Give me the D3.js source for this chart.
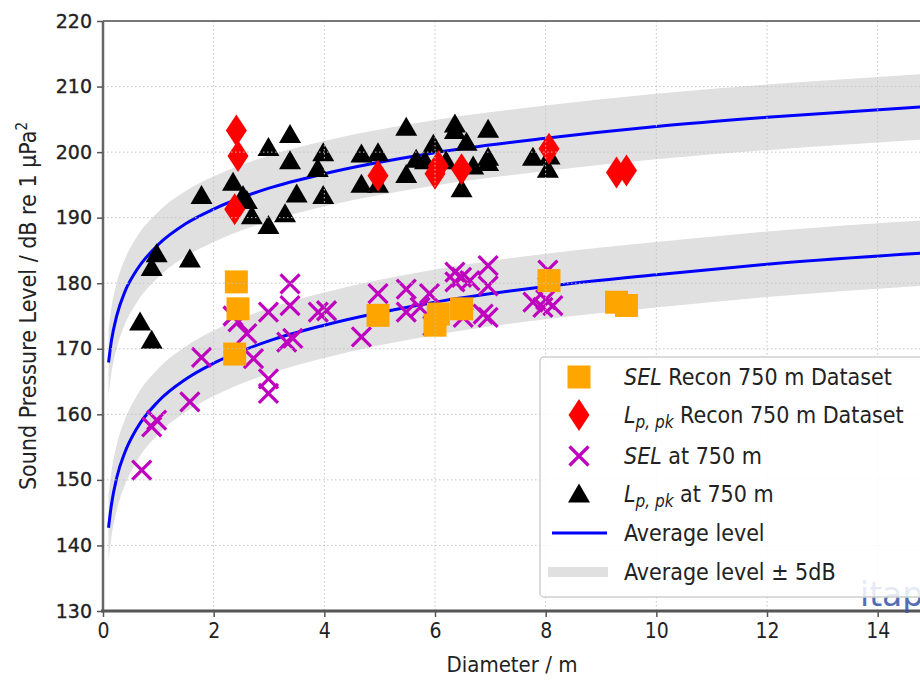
<!DOCTYPE html>
<html><head><meta charset="utf-8">
<script src="https://cdn.jsdelivr.net/npm/d3@7/dist/d3.min.js"></script>
<style>
html,body{margin:0;padding:0;background:#fff;}
svg{display:block;}
.cond{font-family:"DejaVu Sans Condensed","DejaVu Sans",sans-serif;font-stretch:condensed;}
</style></head>
<body><svg id="c" width="920" height="680"></svg>
<script>
// ---- data ----
const xTicks = [0,2,4,6,8,10,12,14];
const yTicks = [130,140,150,160,170,180,190,200,210,220];

// Average level curves
const curveD     = [0.1, 0.15, 0.25, 0.4, 0.6, 1, 1.5, 2, 3, 4, 6, 8, 10, 12, 15];
const curveLpk   = [167.9,171.1,175.1,178.8,181.9,185.9,189.1,191.3,194.5,196.7,199.9,202.1,203.9,205.3,207.0];
const curveSEL   = [142.7,146.1,150.4,154.3,157.7,162.0,165.4,167.8,171.2,173.6,177.1,179.5,181.3,182.9,184.7];
const bandHalfWidth = 5; // "Average level ± 5dB"

// L_p,pk at 750 m (triangles)
const lpkX = [0.67,0.88,0.88,0.97,1.57,1.78,2.35,2.53,2.6,2.69,2.99,2.99,3.29,3.38,3.38,3.5,3.98,3.88,3.98,4.67,4.67,4.97,4.97,5.48,5.48,5.66,5.82,5.97,6.2,6.36,6.36,6.57,6.69,6.48,6.96,6.96,6.96,7.77,8.07,8.04];
const lpkY = [174.1,171.3,182.4,184.5,183.7,193.4,195.4,193.4,192.6,190.3,188.8,200.7,190.6,202.7,198.7,193.6,199.9,197.5,193.4,199.7,195.1,199.9,195.1,203.8,196.6,198.9,198.7,201.2,198.7,204.3,203.3,201.5,197.9,194.4,203.5,199.2,198.4,199.2,199.4,197.4];

// SEL at 750 m (crosses)
const selX = [0.7,0.88,0.97,1.57,1.78,2.35,2.44,2.6,2.72,2.99,2.99,2.99,3.32,3.43,3.38,3.38,3.89,4.04,4.67,4.97,5.48,5.48,5.73,5.9,5.96,6.36,6.36,6.48,6.63,6.96,6.96,6.87,6.96,6.51,7.77,7.95,8.13,8.04,8.0];
const selY = [151.5,158.1,159.1,161.9,168.7,175.0,174.1,172.3,168.5,175.6,165.4,163.2,171.0,171.6,179.9,176.6,175.6,175.8,171.8,178.4,179.1,175.6,176.3,178.4,173.5,181.7,180.2,180.9,180.4,182.7,179.6,175.3,174.8,174.8,177.1,176.3,176.6,182.0,177.5];

// Recon 750 m dataset
const reconX    = [2.41,2.44,2.38,4.97,6.0,6.06,6.48,8.06,9.28,9.46];
const reconSEL  = [180.2,176.1,169.2,175.1,173.6,175.3,176.1,180.4,177.1,176.6];
const reconLpk  = [203.3,199.4,191.3,196.4,196.7,197.9,197.4,200.5,196.9,197.2];

// ---- chart ----
const svg = d3.select("#c");
const L = 103, T = 21, R = 933, B = 611;
const x = d3.scaleLinear().domain([0,15]).range([L,R]);
const y = d3.scaleLinear().domain([130,220]).range([B,T]);

const defs = svg.append("defs");
defs.append("clipPath").attr("id","plot").append("rect").attr("x",L).attr("y",T).attr("width",R-L).attr("height",B-T);
const plot = svg.append("g").attr("clip-path","url(#plot)");

const curves = [curveLpk, curveSEL].map(arr => curveD.map((d,i)=>({d, v:arr[i]})));

// bands
const area = d3.area().x(p=>x(p.d)).y0(p=>y(p.v-bandHalfWidth)).y1(p=>y(p.v+bandHalfWidth)).curve(d3.curveMonotoneX);
curves.forEach(c => plot.append("path").attr("d", area(c)).attr("fill","#e0e0e0"));

// grid
const grid = svg.append("g").attr("stroke","#c4c4c4").attr("stroke-width",1).attr("stroke-dasharray","1.5,2.5");
xTicks.filter(t=>t>0).forEach(t => grid.append("line").attr("x1",x(t)).attr("x2",x(t)).attr("y1",T).attr("y2",B));
yTicks.filter(t=>t>130 && t<220).forEach(t => grid.append("line").attr("x1",L).attr("x2",R).attr("y1",y(t)).attr("y2",y(t)));

// average lines
const line = d3.line().x(p=>x(p.d)).y(p=>y(p.v)).curve(d3.curveMonotoneX);
curves.forEach(c => plot.append("path").attr("d", line(c)).attr("fill","none").attr("stroke","#0000ff").attr("stroke-width",3));

// markers
const triPath = (cx,cy) => `M${cx},${cy-10.5}L${cx+11},${cy+8.5}L${cx-11},${cy+8.5}Z`;
const crossG = (g,cx,cy) => {
  const s=9.5;
  g.append("path").attr("d",`M${cx-s},${cy-s}L${cx+s},${cy+s}M${cx-s},${cy+s}L${cx+s},${cy-s}`)
   .attr("stroke","#bf00bf").attr("stroke-width",3.2).attr("fill","none");
};
const sqPath = (cx,cy) => `M${cx-11.5},${cy-11.5}h23v23h-23Z`;
const diaPath = (cx,cy) => `M${cx},${cy-16}L${cx+10.5},${cy}L${cx},${cy+16}L${cx-10.5},${cy}Z`;

const mk = plot.append("g");
selX.forEach((d,i)=>crossG(mk,x(d),y(selY[i])));
lpkX.forEach((d,i)=>mk.append("path").attr("d",triPath(x(d),y(lpkY[i]))).attr("fill","#000"));
reconX.forEach((d,i)=>mk.append("path").attr("d",sqPath(x(d),y(reconSEL[i]))).attr("fill","#ffa500"));
reconX.forEach((d,i)=>mk.append("path").attr("d",diaPath(x(d),y(reconLpk[i]))).attr("fill","#ff0000"));

// spines
svg.append("line").attr("x1",L).attr("x2",R).attr("y1",T).attr("y2",T).attr("stroke","#777").attr("stroke-width",2);
svg.append("line").attr("x1",L).attr("x2",L).attr("y1",T).attr("y2",B).attr("stroke","#666").attr("stroke-width",2.5);
svg.append("line").attr("x1",L-2).attr("x2",R).attr("y1",B).attr("y2",B).attr("stroke","#555").attr("stroke-width",3);

// axes
const yAx = svg.append("g").attr("transform",`translate(${L},0)`)
  .call(d3.axisLeft(y).tickValues(yTicks).tickSize(6).tickPadding(5).tickFormat(d3.format("d")));
yAx.select(".domain").remove();
yAx.selectAll("line").attr("stroke","#555").attr("stroke-width",1.5);
yAx.selectAll("text").attr("font-family","DejaVu Sans, sans-serif").attr("font-size",19)
  .attr("fill","#222").attr("stroke","#222").attr("stroke-width",0.35);

const xAx = svg.append("g").attr("transform",`translate(0,${B})`)
  .call(d3.axisBottom(x).tickValues(xTicks).tickSize(6).tickPadding(6).tickFormat(d3.format("d")));
xAx.select(".domain").remove();
xAx.selectAll("line").attr("stroke","#555").attr("stroke-width",1.5);
xAx.selectAll("text").attr("class","cond").attr("font-size",21).attr("fill","#222");

// axis titles
svg.append("text").attr("class","cond").attr("x",512).attr("y",672).attr("text-anchor","middle")
  .attr("font-size",22).attr("fill","#222").text("Diameter / m");
const yt = svg.append("text").attr("class","cond").attr("transform","translate(36,306) rotate(-90)")
  .attr("text-anchor","middle").attr("font-size",23).attr("fill","#222");
yt.append("tspan").text("Sound Pressure Level / dB re 1 μPa");
yt.append("tspan").attr("dy",-9).attr("font-size",15).text("2");

// watermark
svg.append("text").attr("x",860).attr("y",606).attr("font-family","DejaVu Sans, sans-serif")
  .attr("font-size",33).attr("fill","#3553a8").attr("opacity",0.85).text("itap");

// legend
const lg = svg.append("g");
lg.append("rect").attr("x",540).attr("y",357).attr("width",390).attr("height",240).attr("rx",4)
  .attr("fill","rgba(255,255,255,0.85)").attr("stroke","#d0d0d0").attr("stroke-width",1.5);
const hx = 579, tx = 624;
const rows = [377,415,456,494,533,572];
lg.append("path").attr("d",sqPath(hx,rows[0])).attr("fill","#ffa500");
lg.append("path").attr("d",diaPath(hx,rows[1])).attr("fill","#ff0000");
crossG(lg,hx,rows[2]);
lg.append("path").attr("d",triPath(hx,rows[3])).attr("fill","#000");
lg.append("line").attr("x1",552).attr("x2",607).attr("y1",rows[4]).attr("y2",rows[4]).attr("stroke","#0000ff").attr("stroke-width",3);
lg.append("rect").attr("x",548).attr("y",rows[5]-5).attr("width",60).attr("height",10).attr("fill","#e0e0e0");

const lt = (i) => lg.append("text").attr("class","cond").attr("x",tx).attr("y",rows[i]+8).attr("font-size",23).attr("fill","#222");
const addL = (t) => { t.append("tspan").attr("font-style","italic").text("L");
  t.append("tspan").attr("font-style","italic").attr("font-size",17).attr("dy",5).text("p, pk");
  return t; };
let t0 = lt(0); t0.append("tspan").attr("font-style","italic").text("SEL"); t0.append("tspan").text(" Recon 750 m Dataset");
let t1 = addL(lt(1)); t1.append("tspan").attr("dy",-5).text(" Recon 750 m Dataset");
let t2 = lt(2); t2.append("tspan").attr("font-style","italic").text("SEL"); t2.append("tspan").text(" at 750 m");
let t3 = addL(lt(3)); t3.append("tspan").attr("dy",-5).text(" at 750 m");
lt(4).text("Average level");
lt(5).text("Average level ± 5dB");
</script></body></html>
